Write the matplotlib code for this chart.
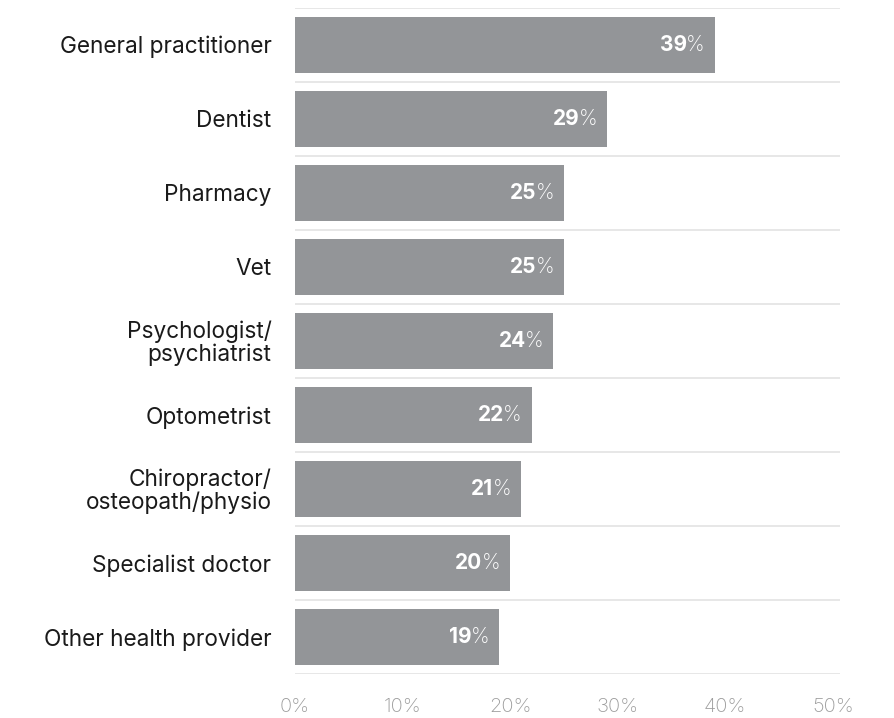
import numpy as np
import matplotlib
matplotlib.use("Agg")
import matplotlib.pyplot as plt

plt.rcParams["font.family"] = ["Inter", "DejaVu Sans"]

providers = ["General practitioner", "Dentist", "Pharmacy", "Vet",
             "Psychologist/\npsychiatrist", "Optometrist",
             "Chiropractor/\nosteopath/physio", "Specialist doctor",
             "Other health provider"]
shares = [39, 29, 25, 25, 24, 22, 21, 20, 19]
tick_vals = [0, 10, 20, 30, 40, 50]

bar_color = "#939598"
grid_color = "#e3e3e3"

fig = plt.figure(figsize=(8.94, 7.18), dpi=100)
ax = fig.add_axes([0.33, 0.0613, 0.61, 0.928])

y = np.arange(len(providers))
ax.barh(y, shares, height=0.76, color=bar_color, zorder=2)
ax.set_ylim(len(providers) - 0.5, -0.5)
ax.set_xlim(0, 50.7)

# separators between rows
for b in np.arange(len(providers) + 1) - 0.5:
    ax.axhline(b, color=grid_color, lw=1.2, zorder=1)

ax.set_yticks(y)
ax.set_yticklabels(providers, fontsize=16.3, color="#1a1a1a", linespacing=1.0)
ax.tick_params(axis="y", length=0, pad=17)
ax.set_xticks(tick_vals)
ax.set_xticklabels([f"{v}%" for v in tick_vals], fontsize=14.5, color="#9c9c9c",
                   fontweight="light")
ax.tick_params(axis="x", length=0, pad=17)
for s in ax.spines.values():
    s.set_visible(False)

# value labels: bold number followed by a lighter percent sign
for yi, v in zip(y, shares):
    pct = ax.annotate("%", xy=(v, yi), xytext=(-7, 0), textcoords="offset points",
                      ha="right", va="center", color="white", fontsize=15,
                      fontweight="light")
    ax.annotate(str(v), xy=(0, 0.5), xycoords=pct, xytext=(0.5, 0),
                textcoords="offset points", ha="right", va="center",
                color="white", fontsize=15, fontweight="bold")

fig.savefig("out.png", dpi=100)
